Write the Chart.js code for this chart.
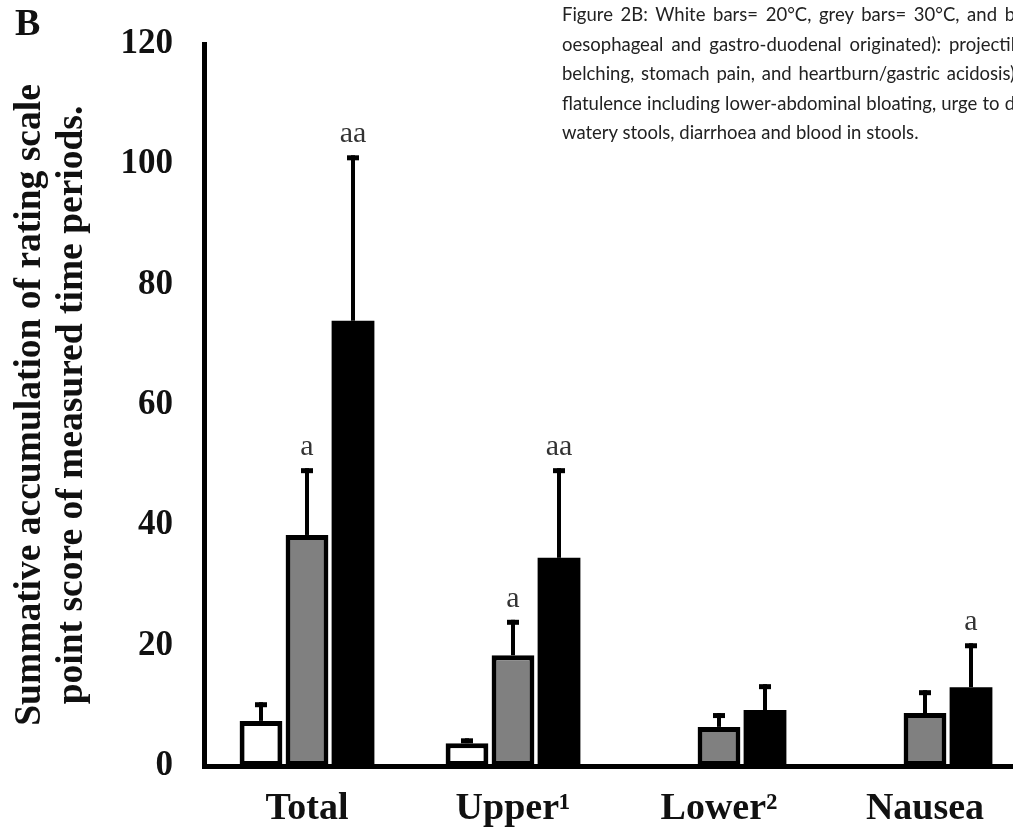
<!DOCTYPE html>
<html lang="en">
<head>
  <meta charset="UTF-8">
  <title>Figure 2B</title>
  <script src="https://cdn.jsdelivr.net/npm/chart.js"></script>
  <style>
    html, body {
      margin: 0;
      padding: 0;
      background: #fff;
      overflow: hidden;
      width: 1013px;
      height: 829px;
    }
    #wrap {
      position: absolute;
      left: 0;
      top: 0;
      width: 1030px;
      height: 829px;
    }
    #panel {
      position: absolute;
      left: 15px;
      top: 0px;
      font: bold 38px "Liberation Serif", serif;
      color: #111;
    }
    #caption {
      position: absolute;
      left: 562px;
      top: 0px;
      width: 453px;
      font: 18.5px Lato, sans-serif;
      line-height: 29.5px;
      color: #222;
    }
    #caption div {
      white-space: nowrap;
      text-align: justify;
      text-align-last: justify;
    }
    #caption div.last {
      text-align-last: left;
    }
  </style>
</head>
<body>

<div id="wrap"><canvas id="barChart"></canvas></div>
<div id="panel">B</div>
<div id="caption">
  <div>Figure 2B: White bars= 20°C, grey bars= 30°C, and b</div>
  <div>oesophageal and gastro-duodenal originated): projectil</div>
  <div>belching, stomach pain, and heartburn/gastric acidosis)</div>
  <div>flatulence including lower-abdominal bloating, urge to d</div>
  <div class="last">watery stools, diarrhoea and blood in stools.</div>
</div>

<script>
  const categories = ["Total", "Upper\u00B9", "Lower\u00B2", "Nausea"];
  const yTicks = [0, 20, 40, 60, 80, 100, 120];

  // bar heights
  const white20 = [7.5, 3.8, null, null];
  const grey30 = [38.4, 18.4, 6.5, 8.8];
  const black40 = [74.0, 34.6, 9.3, 13.1];

  // top of the error bars
  const white20Err = [10.6, 4.6, null, null];
  const grey30Err = [49.5, 24.3, 8.8, 12.6];
  const black40Err = [101.5, 49.5, 13.6, 20.4];

  // significance letters
  const grey30Marks = ["a", "a", "", ""];
  const black40Marks = ["aa", "aa", "", "a"];

  const serif = '"Liberation Serif", "Times New Roman", serif';

  const errorBars = {
    id: 'errorBars',
    afterDatasetsDraw(chart) {
      const ctx = chart.ctx;
      const y = chart.scales.y;
      chart.data.datasets.forEach((ds, i) => {
        const meta = chart.getDatasetMeta(i);
        meta.data.forEach((bar, j) => {
          const hi = ds.errTop[j];
          if (hi == null) return;
          const top = y.getPixelForValue(hi);
          ctx.save();
          ctx.strokeStyle = '#000';
          ctx.fillStyle = '#000';
          ctx.lineWidth = 4;
          ctx.beginPath();
          ctx.moveTo(bar.x, bar.y);
          ctx.lineTo(bar.x, top);
          ctx.stroke();
          ctx.fillRect(bar.x - 6, top, 12, 5);
          const mark = ds.marks[j];
          if (mark) {
            ctx.fillStyle = '#333';
            ctx.font = '30px ' + serif;
            ctx.textAlign = 'center';
            ctx.textBaseline = 'alphabetic';
            ctx.fillText(mark, bar.x, top - 13);
          }
          ctx.restore();
        });
      });
    }
  };

  const ctx = document.getElementById('barChart').getContext('2d');
  const chart = new Chart(ctx, {
    type: 'bar',
    data: {
      labels: categories,
      datasets: [
        {
          label: '20°C',
          data: white20,
          errTop: white20Err,
          marks: ["", "", "", ""],
          backgroundColor: '#fff',
          borderColor: '#000',
          borderWidth: 5,
          borderSkipped: false
        },
        {
          label: '30°C',
          data: grey30,
          errTop: grey30Err,
          marks: grey30Marks,
          backgroundColor: '#808080',
          borderColor: '#000',
          borderWidth: 5,
          borderSkipped: false
        },
        {
          label: '40°C',
          data: black40,
          errTop: black40Err,
          marks: black40Marks,
          backgroundColor: '#000',
          borderColor: '#000',
          borderWidth: 0
        }
      ]
    },
    options: {
      responsive: true,
      maintainAspectRatio: false,
      animation: false,
      datasets: {
        bar: {
          categoryPercentage: 0.67,
          barPercentage: 0.93
        }
      },
      layout: {
        padding: { top: 44, right: 2, left: 0, bottom: 0 }
      },
      plugins: {
        legend: { display: false },
        tooltip: { enabled: false }
      },
      scales: {
        x: {
          grid: { display: false, drawTicks: false },
          border: { display: true, color: '#000', width: 5 },
          ticks: {
            color: '#111',
            padding: 20,
            font: { family: serif, size: 38, weight: 'bold' }
          },
          afterFit: (s) => { s.height = 63; }
        },
        y: {
          min: 0,
          max: 120,
          afterBuildTicks: (s) => { s.ticks = yTicks.map(v => ({ value: v })); },
          grid: { display: false, drawTicks: false },
          border: { display: true, color: '#000', width: 5 },
          ticks: {
            color: '#111',
            padding: 31,
            font: { family: serif, size: 35, weight: 'bold' }
          },
          title: {
            display: true,
            text: ["Summative accumulation of rating scale", "point score of measured time periods."],
            color: '#111',
            padding: { top: 10, bottom: 0 },
            font: { family: serif, size: 37.5, weight: 'bold', lineHeight: 1.1 }
          },
          afterFit: (s) => {
            s.width = 204;
            s.paddingTop = 0;
            s.paddingBottom = 0;
          }
        }
      }
    },
    plugins: [errorBars]
  });
</script>

</body>
</html>
